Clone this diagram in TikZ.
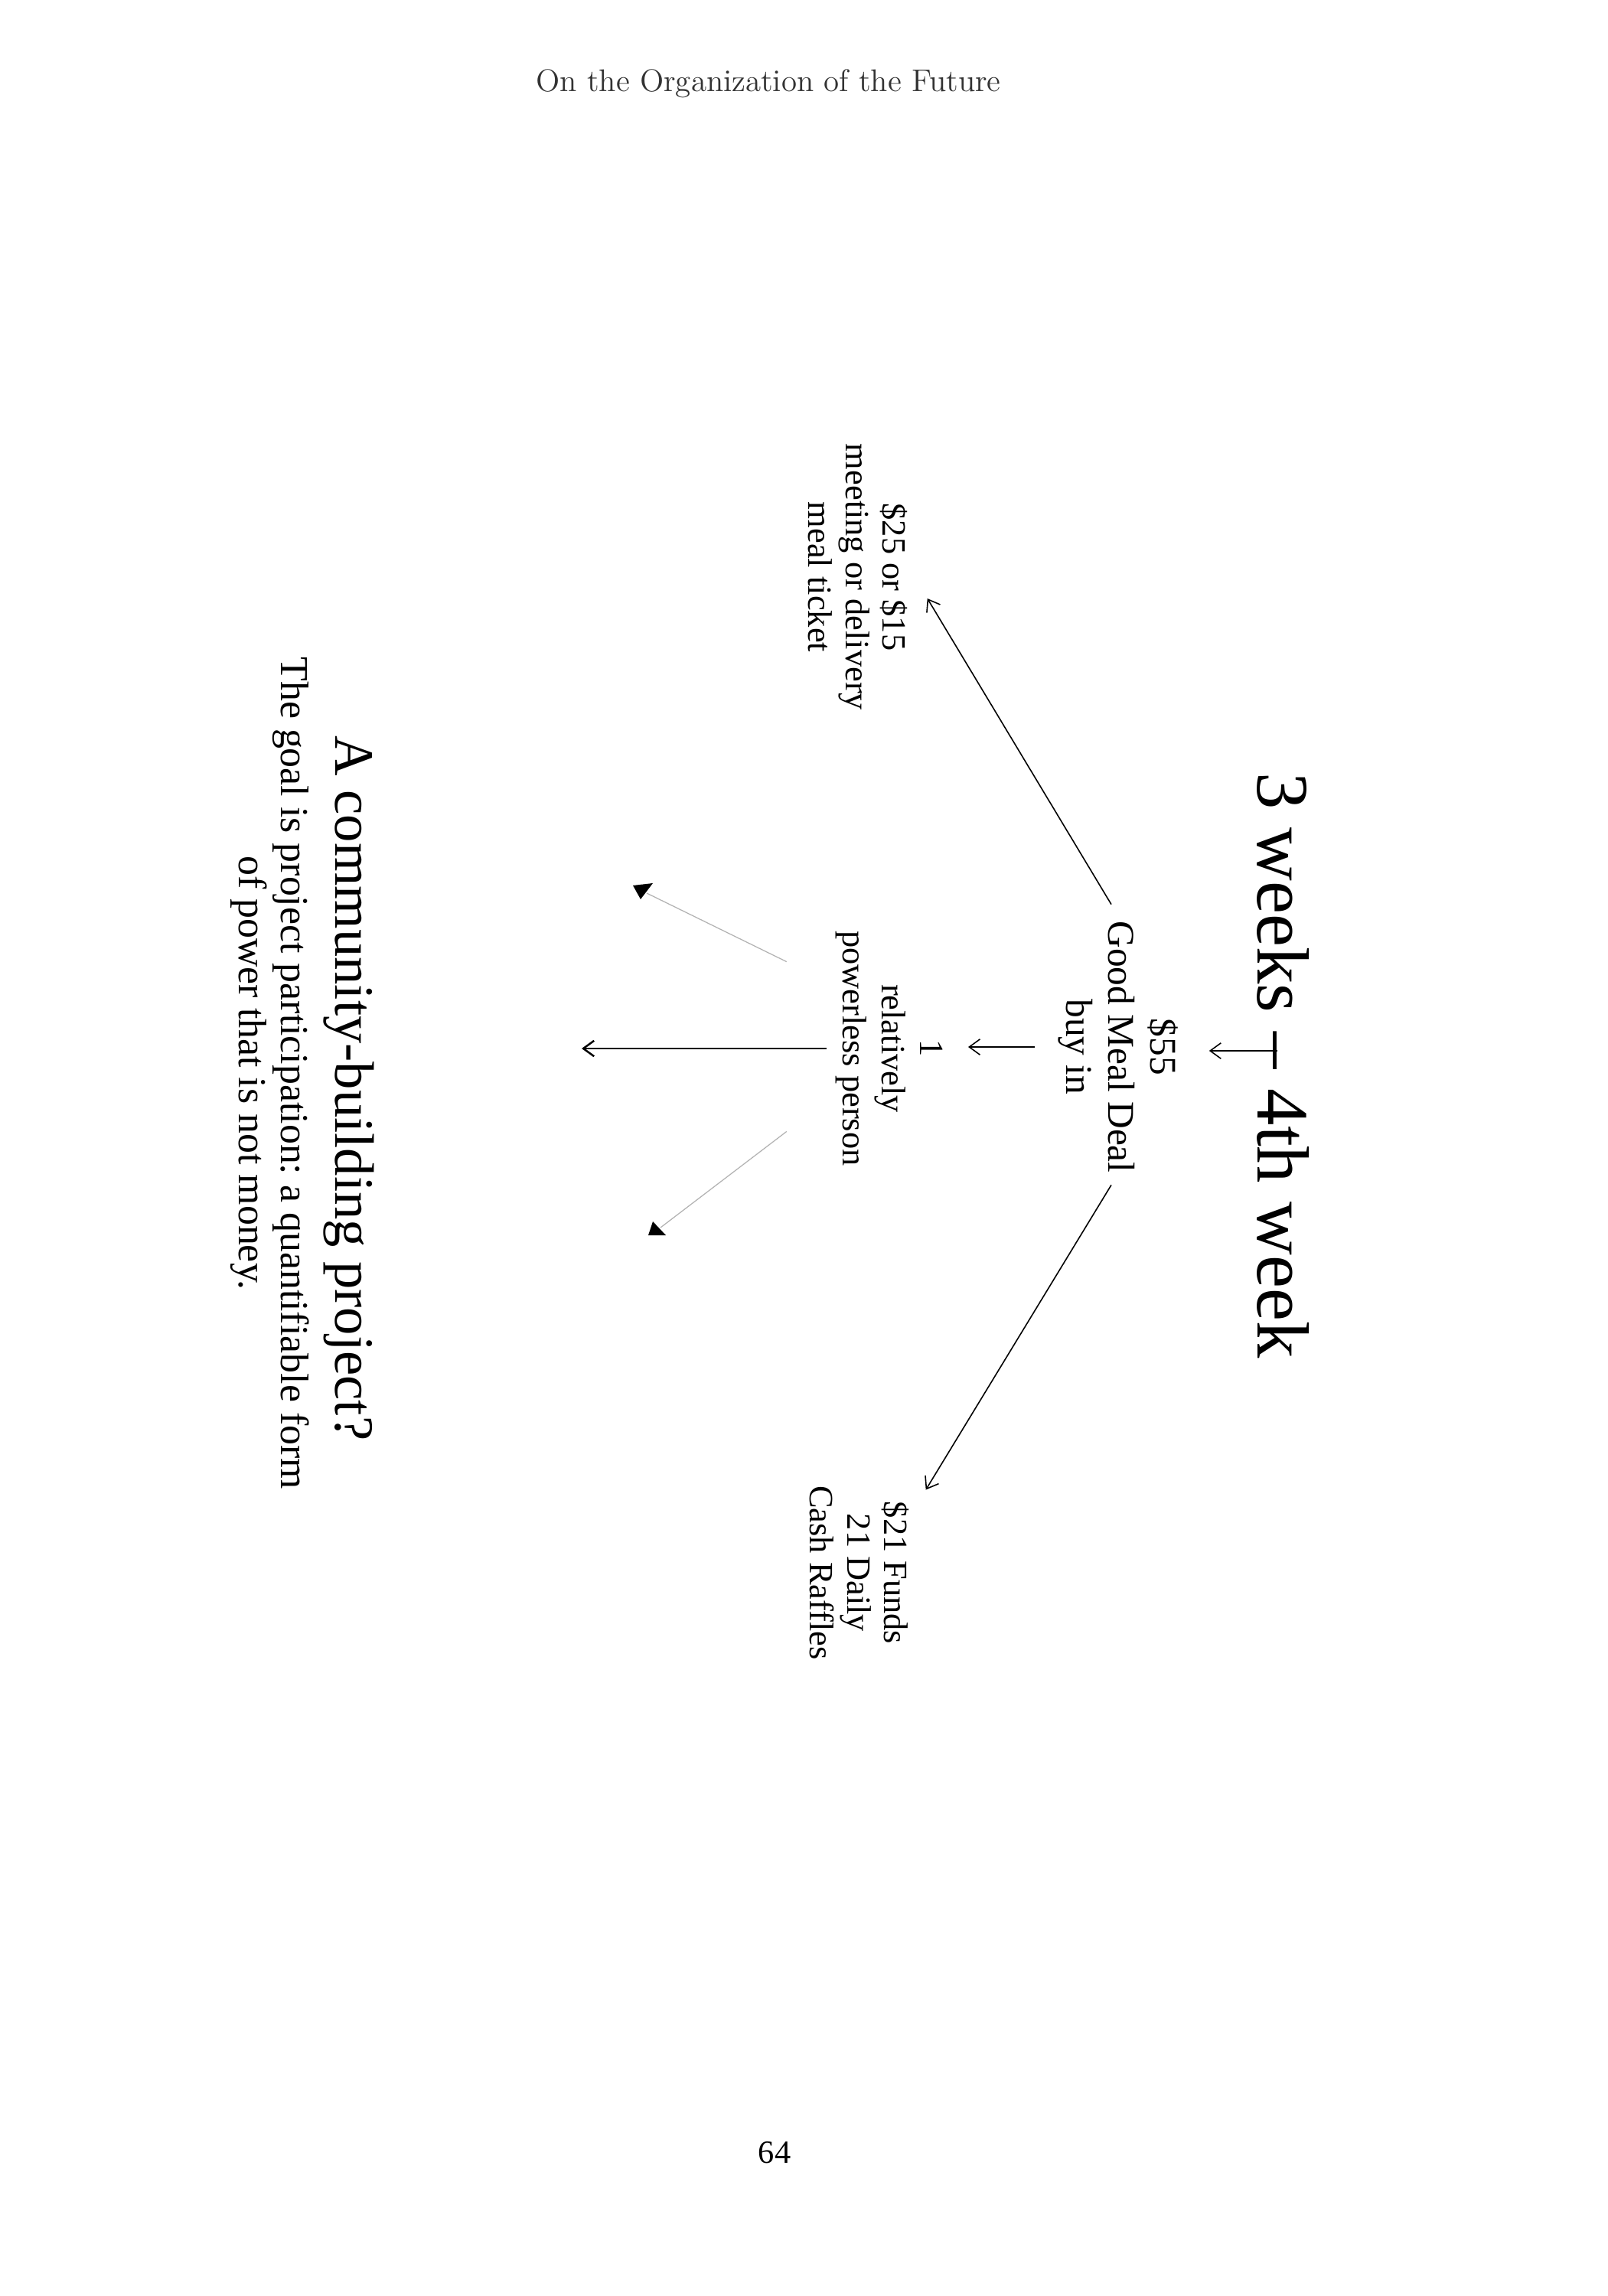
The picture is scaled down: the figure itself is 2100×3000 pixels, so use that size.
\documentclass[tikz,border=0pt]{standalone}
\usepackage{fontspec}
\newfontfamily\lib{Liberation Serif}
\usetikzlibrary{arrows.meta,calc}
\frenchspacing
\tikzset{
  lbl/.style={rotate=-90, inner sep=0pt, align=center, text=black},
  bigfont/.style={font=\lib\fontsize{14}{15.6}\selectfont},
  smallfont/.style={font=\lib\fontsize{12.6}{13.8}\selectfont},
  titlefont/.style={font=\lib\fontsize{27.4}{30}\selectfont},
  arr/.style={draw=black, line width=0.45pt, -{Straight Barb[length=4pt,width=5.8pt]}},
  longarr/.style={arr, line width=0.7pt},
  grayline/.style={draw=black!30, line width=0.35pt},
  headtip/.style={fill=black, draw=none}
}
\begin{document}
\begin{tikzpicture}[x=0.283465pt, y=-0.283465pt]
\fill[white] (0,0) rectangle (2100,3000);
\useasboundingbox (0,0) rectangle (2100,3000);

% header and page number
\node[anchor=base, inner sep=0pt, text=black!80, font=\fontsize{11.6}{13}\selectfont] (hdr) at (1004,120) {On the Organization of the Future};
\node[anchor=base, inner sep=0pt, font=\lib\fontsize{12}{14}\selectfont] (pgno) at (1012,2826) {64};

% title: 3 weeks – 4th week
\node[lbl, titlefont, anchor=base] (dash) at (1643,1373) {–};
\node[lbl, titlefont, anchor=base east] (w3) at ([yshift=6.85pt]dash.base west) {3 weeks};
\node[lbl, titlefont, anchor=base west] (w4) at ([yshift=-6.85pt]dash.base east) {4th week};

% central chain
\node[lbl, bigfont] (meal) at (1461,1368) {\$55\\Good Meal Deal\\buy in};
\node[lbl, font=\lib\fontsize{12.6}{14.2}\selectfont] (person) at (1162,1370) {1\\relatively\\powerless person};

% side nodes
\node[lbl, smallfont] (tickets) at (1121,754) {\$25 or \$15\\meeting or delivery\\meal ticket};
\node[lbl, smallfont] (raffles) at (1123,2055) {\$21 Funds\\21 Daily\\Cash Raffles};

% bottom texts
\node[lbl, anchor=base, font=\lib\fontsize{20.6}{24}\selectfont] (question) at (438,1422) {A community-building project?};
\node[lbl, font=\lib\fontsize{14.7}{15.6}\selectfont] (goal) at (352.6,1402) {The goal is project participation: a quantifiable form\\of power that is not money.};

% free ends
\coordinate (lend) at (760,1372);
\coordinate (g1) at (845,1167);
\coordinate (g2) at (863,1604);

% connectors
\draw[arr, shorten >=11.3pt] (dash.north) -- (dash.north -| meal.north);
\draw[arr, shorten <=8.5pt, shorten >=9.3pt] (meal.south) -- (meal.south -| person.north);
\draw[longarr, shorten <=3.4pt] (person.south) -- (person.south -| lend);
\draw[arr] ([shift={(-9,-21)}]meal.west) -- ([shift={(25,28)}]tickets.north);
\draw[arr] ([shift={(-9,15)}]meal.east) -- ([shift={(21,6)}]raffles.north west);

% gray arrows with filled heads
\draw[grayline] ([shift={(-64,41)}]person.south west) -- (g1);
\fill[headtip] (827,1157) -- (853,1154) -- (837,1175) -- cycle;
\draw[grayline] ([shift={(-64,-46)}]person.south east) -- (g2);
\fill[headtip] (847,1614) -- (870,1614) -- (853,1596) -- cycle;
\end{tikzpicture}
\end{document}
